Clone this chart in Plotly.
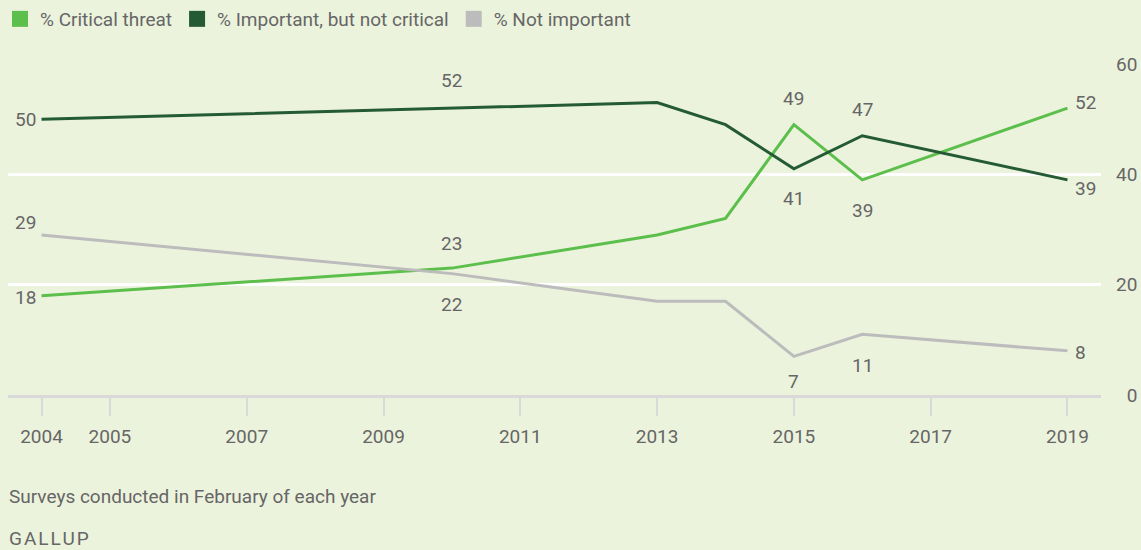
import plotly.graph_objects as go

# ---------------- data ----------------
years = [2004, 2010, 2013, 2014, 2015, 2016, 2019]
critical = [18, 23, 29, 32, 49, 39, 52]
important = [50, 52, 53, 49, 41, 47, 39]
not_important = [29, 22, 17, 17, 7, 11, 8]

series_names = ["% Critical threat", "% Important, but not critical", "% Not important"]

x_tickvals = [2004, 2005, 2007, 2009, 2011, 2013, 2015, 2017, 2019]
x_ticktext = [str(v) for v in x_tickvals]
y_tickvals = [0, 20, 40, 60]
y_ticktext = ["\u20070", "20", "40", "60"]

footnote = "Surveys conducted in February of each year"
source = "GALLUP"

# ---------------- styles ----------------
W, H = 1141, 550
ML, MR, MT, MB = 8, 40, 64, 155
PW, PH = W - ML - MR, H - MT - MB
BG = "#ecf3dd"
TEXT = "#666666"
FONT = "Roboto, 'Liberation Sans', sans-serif"
FS = 19
colors = ["#5cbf4c", "#245b34", "#bcbcbc"]

# label placement per series: (point index, xanchor, xshift, yshift)
placements = [
    [(0, "right", -4, -2), (1, "center", 0, 25), (4, "center", 0, 26),
     (5, "center", 0, -31), (6, "left", 6, 6)],
    [(0, "right", -4, 0), (1, "center", 0, 28), (4, "center", 0, -30),
     (5, "center", 0, 26), (6, "left", 6, -9)],
    [(0, "right", -4, 13), (1, "center", 0, -31), (4, "center", 0, -25),
     (5, "center", 0, -31), (6, "left", 6, -2)],
]

all_series = [critical, important, not_important]

fig = go.Figure()

for name, vals, col in zip(series_names, all_series, colors):
    fig.add_trace(go.Scatter(
        x=years, y=vals, mode="lines", name=name,
        line=dict(color=col, width=3), showlegend=False, hoverinfo="skip",
    ))

# legend entries (square swatches)
for name, col in zip(series_names, colors):
    fig.add_trace(go.Scatter(
        x=[None], y=[None], mode="markers", name=name,
        marker=dict(symbol="square", size=16, color=col),
        showlegend=True,
    ))

annotations = []
for vals, plc in zip(all_series, placements):
    for idx, xa, xs, ys in plc:
        annotations.append(dict(
            x=years[idx], y=vals[idx], xref="x", yref="y",
            text=str(vals[idx]), showarrow=False,
            xanchor=xa, yanchor="middle", xshift=xs, yshift=ys,
            font=dict(family=FONT, size=FS, color=TEXT),
        ))


def px_to_paper(px, py):
    return (px - ML) / PW, (H - MB - py) / PH


fx, fy = px_to_paper(7, 497)
annotations.append(dict(
    x=fx, y=fy, xref="paper", yref="paper", text=footnote, showarrow=False,
    font=dict(family=FONT, size=FS, color=TEXT), xanchor="left", yanchor="middle",
))
gx, gy = px_to_paper(7, 538)
annotations.append(dict(
    x=gx, y=gy, xref="paper", yref="paper",
    text="\u200a".join(source), showarrow=False,
    font=dict(family=FONT, size=FS, color=TEXT), xanchor="left", yanchor="middle",
))

fig.update_layout(
    width=W, height=H,
    paper_bgcolor=BG, plot_bgcolor=BG,
    margin=dict(l=ML, r=MR, t=MT, b=MB, autoexpand=False),
    font=dict(family=FONT, size=FS, color=TEXT),
    showlegend=True,
    legend=dict(
        orientation="h", x=-5 / W, y=1, xref="container", yref="container",
        xanchor="left", yanchor="top",
        font=dict(family=FONT, size=FS, color=TEXT),
        bgcolor="rgba(0,0,0,0)", itemsizing="trace",
        traceorder="normal",
    ),
    xaxis=dict(
        range=[2003.51, 2019.49], tickvals=x_tickvals, ticktext=x_ticktext,
        showgrid=False, zeroline=False,
        showline=True, linecolor="#d9d9d9", linewidth=3,
        ticks="outside", ticklen=18, tickwidth=2, tickcolor="#d9d9d9",
        ticklabelstandoff=4,
        tickfont=dict(family=FONT, size=FS, color=TEXT),
        fixedrange=True,
    ),
    yaxis=dict(
        range=[0, 60], tickvals=y_tickvals, ticktext=y_ticktext,
        side="right", showgrid=True, gridcolor="#ffffff", gridwidth=3,
        zeroline=False, showline=False, ticks="",
        ticklabelstandoff=14,
        tickfont=dict(family=FONT, size=FS, color=TEXT),
        fixedrange=True,
    ),
    annotations=annotations,
)

fig.write_html(
    "out.html",
    config={"displayModeBar": False},
    post_script="document.body.style.margin='0';document.body.style.overflow='hidden';",
)
